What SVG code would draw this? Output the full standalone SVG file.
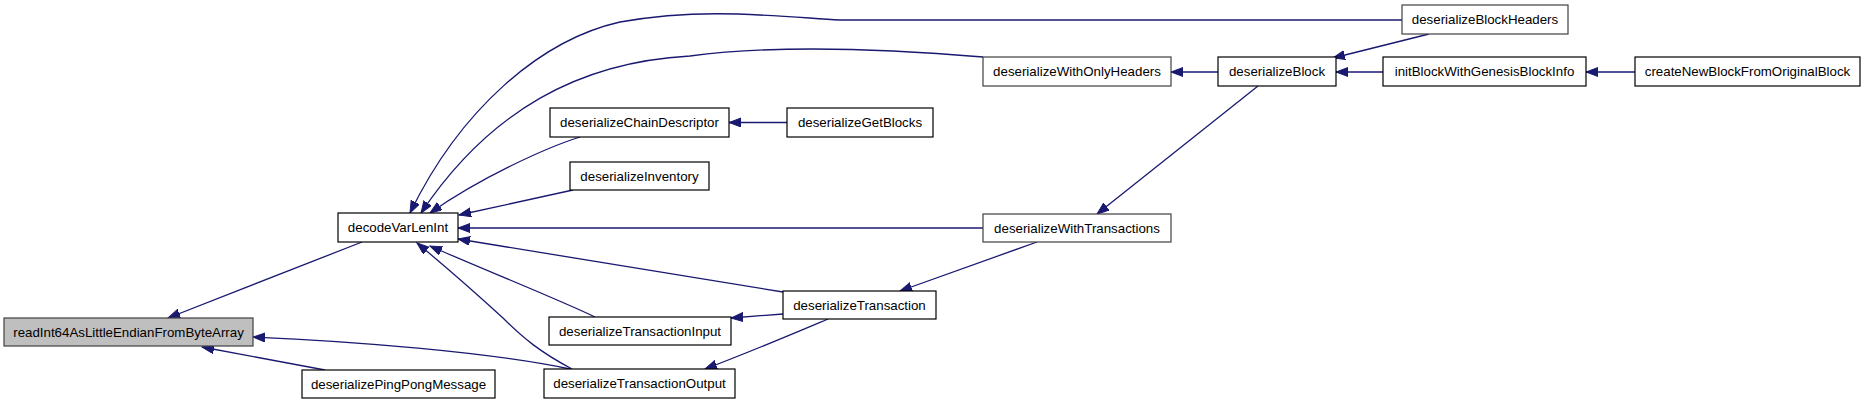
<svg xmlns="http://www.w3.org/2000/svg" width="1867" height="404" viewBox="0 0 1867 404">
<style>
  .n rect { fill: #ffffff; stroke: #000000; stroke-width: 1.2; }
  .n.g rect { stroke: #404040; }
  .n.root rect { fill: #bfbfbf; stroke: #404040; }
  .n text { font-family: "Liberation Sans", Arial, sans-serif; font-size: 13.3px; fill: #000000; text-anchor: middle; }
  .e path { fill: none; stroke: #191970; stroke-width: 1.3; marker-end: url(#arr); }
</style>
<defs>
  <marker id="arr" markerWidth="13" markerHeight="10" refX="12" refY="4.5" orient="auto" markerUnits="userSpaceOnUse">
    <path d="M0,0 L12,4.5 L0,9 z" fill="#191970" stroke="#191970" stroke-width="1"/>
  </marker>
</defs>
<rect x="0" y="0" width="1867" height="404" fill="#ffffff"/>
<g id="edges" class="e">
  <path d="M362,242 L168,318"/>
  <path d="M325,370 L202,347"/>
  <path d="M570,369 C490,352 350,341 253,337"/>
  <path d="M1402,20 C1100,20 900,20 840,20 C760,15 700,8 620,22 C540,40 460,110 410,213"/>
  <path d="M983,57 C900,50 780,44 690,56 C580,62 490,110 421,213"/>
  <path d="M580,137 C545,148 480,178 430,213"/>
  <path d="M573,190 L459,215"/>
  <path d="M983,228 L458,228"/>
  <path d="M783,292 L458,239"/>
  <path d="M595,317 C560,300 480,268 430,246"/>
  <path d="M572,369 C540,352 523,338 503,318 C480,297 440,262 417,243"/>
  <path d="M787,122.5 L729,122.5"/>
  <path d="M1218,72 L1171,72"/>
  <path d="M1383,72 L1336,72"/>
  <path d="M1635,72 L1586,72"/>
  <path d="M1429,34 L1333,58"/>
  <path d="M1258,86 L1097,214"/>
  <path d="M1037,242 L900,291"/>
  <path d="M783,314 L731,318"/>
  <path d="M828,319 C790,335 750,352 705,369"/>
</g>
<g id="readInt64AsLittleEndianFromByteArray" class="n root"><rect x="4" y="318" width="249" height="28"/><text x="128.5" y="336.5">readInt64AsLittleEndianFromByteArray</text></g>
<g id="decodeVarLenInt" class="n"><rect x="338" y="213" width="120" height="29"/><text x="398" y="232">decodeVarLenInt</text></g>
<g id="deserializePingPongMessage" class="n"><rect x="302" y="370" width="193" height="28"/><text x="398.5" y="388.5">deserializePingPongMessage</text></g>
<g id="deserializeInventory" class="n"><rect x="570" y="162" width="139" height="28"/><text x="639.5" y="180.5">deserializeInventory</text></g>
<g id="deserializeChainDescriptor" class="n"><rect x="550" y="108" width="179" height="29"/><text x="639.5" y="127">deserializeChainDescriptor</text></g>
<g id="deserializeGetBlocks" class="n"><rect x="787" y="108" width="146" height="29"/><text x="860" y="127">deserializeGetBlocks</text></g>
<g id="deserializeWithOnlyHeaders" class="n g"><rect x="983" y="57" width="188" height="29"/><text x="1077" y="76">deserializeWithOnlyHeaders</text></g>
<g id="deserializeBlock" class="n"><rect x="1218" y="57" width="118" height="29"/><text x="1277" y="76">deserializeBlock</text></g>
<g id="initBlockWithGenesisBlockInfo" class="n"><rect x="1383" y="57" width="203" height="29"/><text x="1484.5" y="76">initBlockWithGenesisBlockInfo</text></g>
<g id="createNewBlockFromOriginalBlock" class="n"><rect x="1635" y="57" width="225" height="29"/><text x="1747.5" y="76">createNewBlockFromOriginalBlock</text></g>
<g id="deserializeBlockHeaders" class="n g"><rect x="1402" y="5" width="166" height="29"/><text x="1485" y="24">deserializeBlockHeaders</text></g>
<g id="deserializeWithTransactions" class="n g"><rect x="983" y="214" width="188" height="28"/><text x="1077" y="232.5">deserializeWithTransactions</text></g>
<g id="deserializeTransaction" class="n"><rect x="783" y="291" width="153" height="28"/><text x="859.5" y="309.5">deserializeTransaction</text></g>
<g id="deserializeTransactionInput" class="n"><rect x="549" y="317" width="182" height="28"/><text x="640" y="335.5">deserializeTransactionInput</text></g>
<g id="deserializeTransactionOutput" class="n"><rect x="544" y="369" width="191" height="29"/><text x="639.5" y="388">deserializeTransactionOutput</text></g>
</svg>
